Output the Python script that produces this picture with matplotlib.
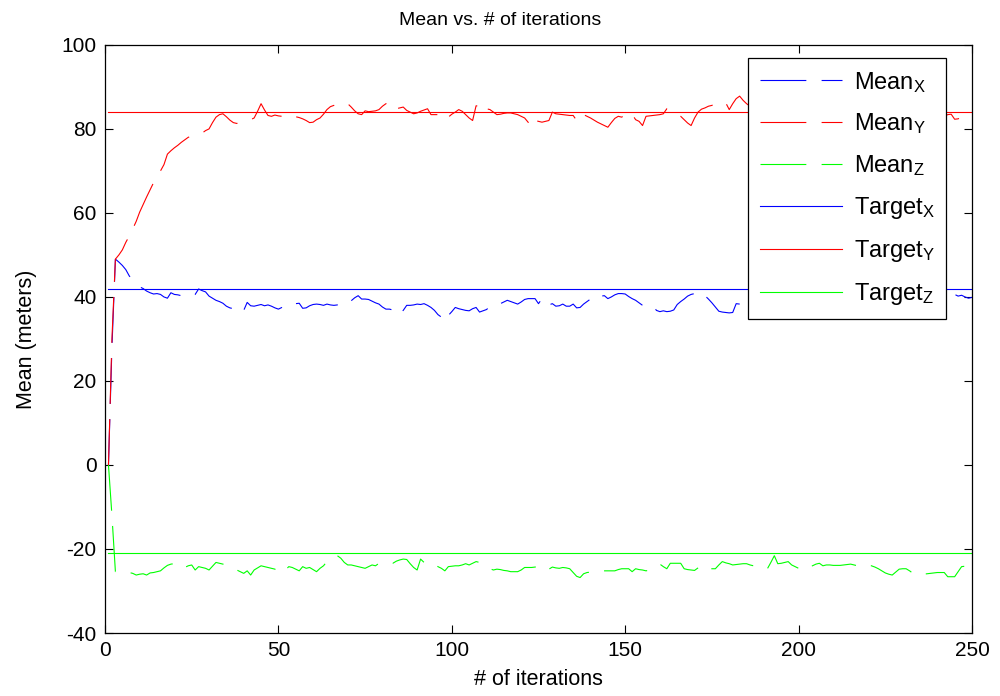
import matplotlib
matplotlib.use("Agg")
import matplotlib.pyplot as plt
import numpy as np

plt.rcParams['font.family'] = ['Liberation Sans', 'DejaVu Sans']
plt.rcParams['mathtext.fontset'] = 'custom'
plt.rcParams['mathtext.rm'] = 'Liberation Sans'
plt.rcParams['mathtext.it'] = 'Liberation Sans'
plt.rcParams['lines.scale_dashes'] = False
plt.rcParams['axes.unicode_minus'] = False

# iterations 1..250
iterations = np.arange(1, 251)

mean_x = [
    0, 28, 49, 48.3, 47.5, 46.5, 45, 44, 43.2, 42.4,
    42, 41.4, 41, 40.7, 40.8, 40.6, 40, 39.7, 41, 40.6,
    40.5, 40.3, 40.6, 40.2, 40.4, 40.6, 41.9, 41.5, 41.2, 40.2,
    39.7, 39.2, 38.9, 38.5, 37.8, 37.4, 37.2, 37.9, 37.4, 36.8,
    38.7, 37.9, 37.8, 38, 38.2, 37.9, 38.1, 37.8, 37.4, 37.1,
    37.5, 38, 38.1, 37.9, 38.4, 38.5, 37.3, 37.4, 37.9, 38.2,
    38.3, 38.2, 38, 38.3, 38.1, 38, 38.1, 38, 38.1, 38.2,
    39.1, 39.8, 40.3, 39.5, 39.5, 39.4, 39, 38.6, 38.3, 37.6,
    37.1, 37.1, 36.9, 35.7, 36.1, 36.8, 38, 38, 38.1, 38.3,
    38.2, 38.4, 38, 37.5, 36.8, 35.8, 35.2, 36.7, 35.6, 36.5,
    37.5, 37.2, 37, 36.8, 36.7, 37.2, 37.5, 36.4, 36.7, 37,
    37.7, 38.4, 38.4, 38.4, 38.8, 39.2, 38.9, 38.6, 38.3, 38.8,
    39.4, 39.6, 39.6, 39.6, 38.4, 39.6, 38.2, 38.1, 38.4, 37.8,
    37.9, 38.3, 37.8, 37.8, 38.3, 37.4, 37.5, 38.3, 38.9, 39.5,
    40.4, 40.6, 40.2, 40.3, 39.6, 40, 40.5, 40.8, 40.8, 40.7,
    40.1, 39.6, 39.2, 38.6, 38, 38, 38, 38, 36.8, 36.5,
    36.7, 36.5, 36.6, 36.9, 38.2, 38.9, 39.5, 40.2, 40.6, 40.8,
    41.1, 41.2, 40.3, 39.5, 38.6, 37.6, 36.6, 36.4, 36.3, 36.2,
    36.3, 38.4, 38.3, 38.2, 37.6, 38.2, 38.9, 39.4, 38.7, 38.1,
    37.6, 38.4, 39.2, 39.8, 39.1, 38.5, 38.9, 39.6, 40.2, 39.5,
    38.8, 38.3, 37.9, 38.6, 39.3, 39.7, 39.1, 38.4, 38, 38.7,
    39.4, 40.1, 40.5, 39.8, 39.2, 38.6, 38.1, 37.7, 38.3, 39,
    39.6, 39.3, 38.7, 38.2, 38.8, 39.5, 40, 39.6, 39, 38.5,
    38.9, 39.4, 39.9, 40.3, 39.8, 39.2, 38.8, 39.3, 39.8, 40.2,
    40.6, 40.3, 40.7, 40.5, 40.6, 40.2, 40.4, 40, 39.7, 39.9,
]

mean_y = [
    0, 30, 49, 50, 51.2, 53, 54.5, 56.2, 58, 60.2,
    62, 63.8, 65.5, 67.2, 68.5, 70, 71.5, 74, 74.8, 75.5,
    76.1, 76.8, 77.4, 78, 78.3, 78.6, 78.8, 79, 79.6, 80,
    81.5, 82.8, 83.4, 83.6, 82.9, 82.1, 81.5, 81.3, 81.6, 81.8,
    82, 82.2, 82.6, 84.2, 86, 84.5, 83.2, 83, 83.3, 83.1,
    83, 83.4, 83.2, 83, 82.9, 82.7, 82.4, 82, 81.5, 81.6,
    82.2, 82.6, 83.5, 84.6, 85.3, 85.6, 85.9, 86.2, 86.1, 86,
    85.2, 84.3, 83.6, 83.4, 84.3, 84.1, 84.2, 84.3, 84.6, 85.4,
    86, 86.3, 86.2, 84.8, 85, 85.2, 84.4, 84, 83.6, 83.8,
    84.2, 84.5, 84.8, 83.4, 83.4, 83.4, 83.8, 84, 82.8, 83.5,
    84, 84.6, 84.2, 83.4, 82.6, 82, 85.5, 85.4, 84, 84.8,
    84.6, 84, 83.4, 83.5, 83.7, 83.8, 83.8, 83.6, 83.4, 83,
    82.6, 81.6, 80.4, 82, 81.8, 81.6, 81.8, 82, 84, 83.6,
    83.5, 83.4, 83.3, 83.2, 83.2, 82, 83.6, 83.4, 83, 82.6,
    82.1, 81.6, 81.2, 80.8, 80.4, 81.5, 82.5, 83, 82.8, 83.4,
    84, 83.5, 82.2, 81.8, 80.8, 83, 83.1, 83.2, 83.3, 83.4,
    83.6, 84.8, 84.4, 83.8, 83.4, 83, 82.2, 81.4, 80.8, 82.6,
    84, 84.7, 85, 85.4, 85.6, 86, 86.3, 86.2, 86.2, 84.6,
    86, 87.2, 87.8, 86.8, 86, 85.4, 84.8, 85.3, 84.6, 84,
    84.5, 85.1, 84.4, 83.8, 83.2, 83.9, 84.6, 85.2, 84.7, 84.1,
    83.5, 83.1, 83.7, 84.3, 84.9, 85.4, 84.8, 84.2, 83.6, 84,
    84.6, 85.1, 84.5, 83.9, 83.3, 82.9, 83.5, 84.2, 84.8, 84.4,
    83.8, 83.4, 84, 84.7, 85.2, 84.6, 84, 83.5, 83.9, 84.5,
    84.9, 84.3, 83.7, 83.2, 83.6, 84.2, 84.7, 84.1, 83.6, 83.1,
    82.7, 83, 83.4, 83.5, 82.3, 82.4, 82.8, 83.2, 83.4, 83.3,
]

mean_z = [
    0, -12, -25.4, -25.5, -25.5, -25.6, -25.6, -25.8, -26.2, -26,
    -25.9, -26.2, -25.7, -25.6, -25.4, -25.2, -24.5, -23.9, -23.6, -23.5,
    -23.8, -23.6, -24.4, -24, -23.8, -25, -24.2, -24.4, -24.6, -25,
    -24.1, -23.2, -23.4, -23.6, -23.8, -24.1, -24.6, -25, -25.4, -25.8,
    -25.2, -26.2, -25, -24.5, -24, -24.2, -24.4, -24.6, -24.8, -25.4,
    -25.8, -25, -24.2, -24.4, -24.8, -25.2, -24.2, -24.6, -24.4, -24.9,
    -25.4, -24.6, -24, -23, -22.7, -22.4, -21.6, -22.2, -23.2, -23.8,
    -23.8, -24, -24.2, -24.4, -24.6, -24.2, -23.8, -24, -23.4, -23.4,
    -23.4, -23.2, -23.4, -22.9, -22.6, -22.4, -22.5, -23.5, -24.4, -25,
    -22.4, -23.2, -23.6, -23.5, -23.4, -24.2, -24.6, -25.2, -24.2, -24.1,
    -24, -24, -23.8, -23.5, -23.8, -23.4, -23, -23.2, -23.6, -24.4,
    -24.7, -25, -24.8, -24.9, -25.1, -25.2, -25.4, -25.4, -25.4, -25,
    -24.4, -24.4, -24.4, -24.3, -24.2, -23.8, -24.2, -24.8, -24.3, -24.5,
    -24.6, -24.4, -24.5, -24.7, -25.6, -26.5, -26.8, -25.9, -25.6, -25.5,
    -25.4, -25.4, -25.2, -25.2, -25.2, -25.2, -25.2, -24.9, -24.7, -24.7,
    -24.7, -25.4, -24.7, -24.9, -25, -25.2, -25, -24.4, -23.8, -23.6,
    -24.2, -24.7, -23.4, -23.4, -23.4, -23.4, -24.7, -24.9, -25, -25.1,
    -24.5, -23.8, -24.2, -24.7, -24.7, -24.7, -23.8, -23, -23.3, -23.5,
    -23.8, -23.7, -23.6, -23.5, -23.5, -23.8, -24, -24, -24, -24.4,
    -24.7, -23.2, -21.6, -23.5, -23.4, -23.2, -23, -23.8, -24.2, -24.6,
    -25.1, -24.8, -24.2, -24, -23.6, -23.4, -24, -23.8, -23.8, -23.9,
    -23.9, -23.9, -23.8, -23.7, -23.6, -23.8, -24, -23.8, -23.6, -23.8,
    -24, -24.3, -24.7, -25.2, -25.7, -26, -26.2, -25.5, -24.8, -24.7,
    -24.7, -25.2, -25.8, -26.2, -26.1, -26, -25.9, -25.8, -25.7, -25.6,
    -25.6, -25.6, -26.6, -26.6, -26.6, -25.4, -24.2, -24.1, -24, -23.9,
]

target_x, target_y, target_z = 42, 84, -21
axis_names = ['X', 'Y', 'Z']
colors = ['#0000ff', '#ff0000', '#00ff00']

fig = plt.figure(figsize=(10, 6.96), dpi=100)
ax = fig.add_axes([0.105, 0.0905, 0.867, 0.845])

dash = (0, (33, 11))
for series, c, name in zip([mean_x, mean_y, mean_z], colors, axis_names):
    ax.plot(iterations, series, color=c, lw=0.8, linestyle=dash,
            label=r'$\mathregular{Mean_%s}$' % name)
for t, c, name in zip([target_x, target_y, target_z], colors, axis_names):
    ax.plot(iterations, np.full(len(iterations), t), color=c, lw=0.8,
            label=r'$\mathregular{Target_%s}$' % name)

ax.set_xlim(0, 250)
ax.set_ylim(-40, 100)
ax.set_xticks(np.arange(0, 251, 50))
ax.set_yticks(np.arange(-40, 101, 20))
ax.tick_params(direction='in', length=6, width=0.8, top=True, right=True,
               labelsize=15, pad=6)
for s in ax.spines.values():
    s.set_linewidth(0.9)

ax.set_title('Mean vs. # of iterations', fontsize=14, pad=14, x=0.456)
ax.set_xlabel('# of iterations', fontsize=15.5, labelpad=6)
ax.set_ylabel('Mean (meters)', fontsize=15.5, labelpad=18)

leg = ax.legend(loc='upper left', bbox_to_anchor=(0.7416, 0.978), fontsize=17,
                handlelength=3.5, handletextpad=0.47, labelspacing=0.72,
                borderpad=0.5, borderaxespad=0, fancybox=False, framealpha=1,
                edgecolor='black')
leg.get_frame().set_linewidth(0.9)

fig.savefig('out.png', dpi=100)
